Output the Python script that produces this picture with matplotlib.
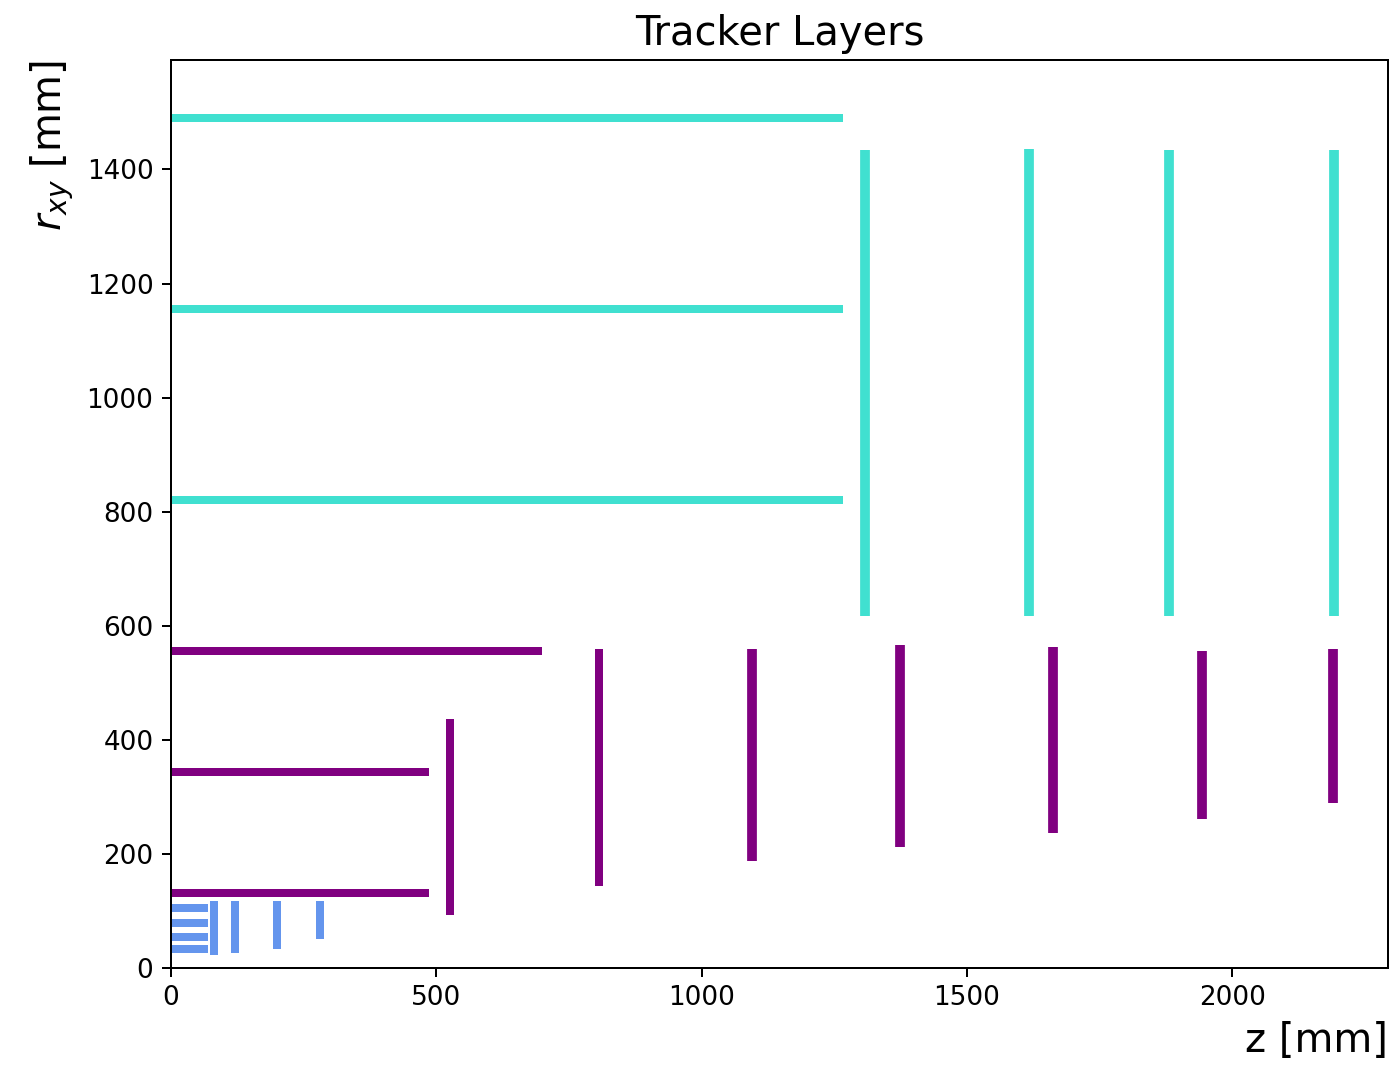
import matplotlib
matplotlib.use("Agg")
import matplotlib.pyplot as plt

# ── Layer geometry (mm) ──

# pixel detector
PIX_BARREL_R = [33, 54, 79, 105]
PIX_BARREL_ZMAX = [69, 69, 69, 69]
PIX_DISK_Z = [81, 121, 200, 281]
PIX_DISK_RMIN = [23, 27, 33, 51]
PIX_DISK_RMAX = [118, 118, 118, 118]

# short strips
SS_BARREL_R = [131, 344, 556]
SS_BARREL_ZMAX = [487, 487, 699]
SS_DISK_Z = [525, 807, 1095, 1375, 1663, 1943, 2190]
SS_DISK_RMIN = [93, 144, 188, 212, 237, 261, 289]
SS_DISK_RMAX = [436, 559, 560, 566, 563, 556, 559]

# long strips
LS_BARREL_R = [820, 1155, 1491]
LS_BARREL_ZMAX = [1267, 1267, 1267]
LS_DISK_Z = [1308, 1618, 1881, 2192]
LS_DISK_RMIN = [617, 617, 617, 617]
LS_DISK_RMAX = [1434, 1436, 1434, 1434]

SYSTEMS = [
    ("cornflowerblue", PIX_BARREL_R, PIX_BARREL_ZMAX, PIX_DISK_Z, PIX_DISK_RMIN, PIX_DISK_RMAX),
    ("purple", SS_BARREL_R, SS_BARREL_ZMAX, SS_DISK_Z, SS_DISK_RMIN, SS_DISK_RMAX),
    ("turquoise", LS_BARREL_R, LS_BARREL_ZMAX, LS_DISK_Z, LS_DISK_RMIN, LS_DISK_RMAX),
]

DPI = 180
fig = plt.figure(figsize=(1390 / DPI, 1065 / DPI), dpi=DPI)
ax = fig.add_axes([0.1230, 0.0911, 0.8756, 0.8526])

for color, b_r, b_z, d_z, d_rmin, d_rmax in SYSTEMS:
    for r, zmax in zip(b_r, b_z):
        ax.plot([0, zmax], [r, r], color=color, lw=3.2, solid_capstyle="butt")
    for z, r0, r1 in zip(d_z, d_rmin, d_rmax):
        # double-sided disks further out read a bit thicker
        lw = 3.9 if z > 1000 else 3.2
        ax.plot([z, z], [r0, r1], color=color, lw=lw, solid_capstyle="butt")

ax.set_xlim(0, 2294)
ax.set_ylim(0, 1592)
ax.tick_params(labelsize=10.5)
ax.set_xlabel("z [mm]", fontsize=16, loc="right")
ax.set_ylabel(r"$r_{xy}$ [mm]", fontsize=16, loc="top")
ax.set_title("Tracker Layers", fontsize=16)

fig.savefig("out.png", dpi=DPI)
